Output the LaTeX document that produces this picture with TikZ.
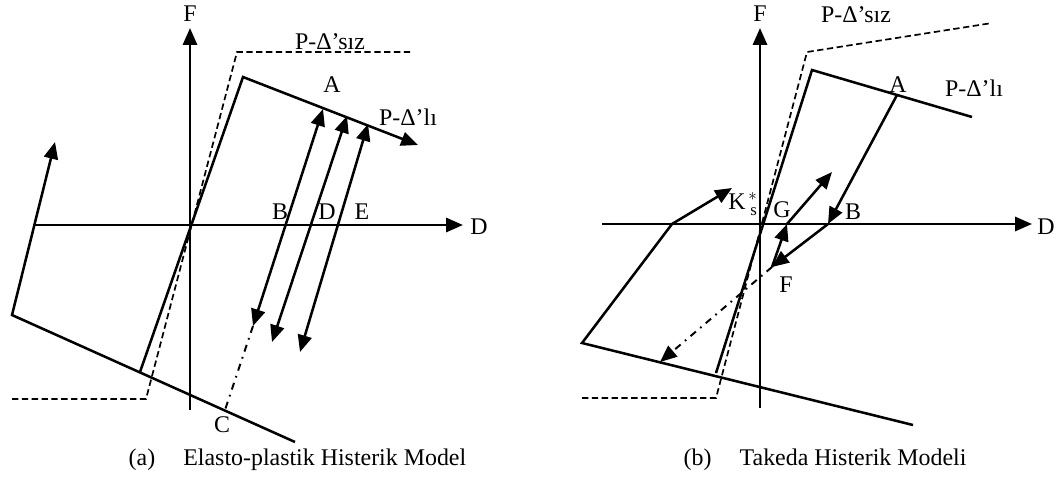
\documentclass[tikz,border=0pt]{standalone}
\usepackage{fontspec}
\setmainfont{Liberation Serif}
\usetikzlibrary{arrows.meta}
\tikzset{
  curve/.style={line width=1.8pt, line join=miter},
  axisline/.style={line width=1.9pt, -{Triangle[length=12pt,width=10pt]}},
  tip/.style={-{Triangle[length=12pt,width=10pt]}},
  twotip/.style={{Triangle[length=12pt,width=10pt]}-{Triangle[length=12pt,width=10pt]}},
  pdnone/.style={line width=1.2pt, dash pattern=on 4.5pt off 2.5pt},
  unload/.style={line width=1.4pt, dash pattern=on 5pt off 4pt on 1.2pt off 4pt},
  lbl/.style={font=\fontsize{17}{20}\selectfont, inner sep=1pt},
}

\begin{document}
\begin{tikzpicture}[x=0.025cm, y=-0.025cm]
\useasboundingbox (0,0) rectangle (1056,482);

% ---- (a) Elasto-plastik ----
% axes
\coordinate (fa0) at (190,410); \coordinate (fa1) at (190,28);
\coordinate (da0) at (33,225);  \coordinate (da1) at (463,225);
\draw[axisline] (fa0) -- (fa1);
\draw[axisline] (da0) -- (da1);
\node[lbl] (Fa) at (190,14) {F};
\node[lbl] (Da) at (479,227) {D};

% P-Delta'siz envelope (dashed)
\coordinate (sa0) at (12,399); \coordinate (sa1) at (146,399);
\coordinate (sa2) at (237,52); \coordinate (sa3) at (413,52);
\draw[pdnone] (sa0) -- (sa1) -- (sa2) -- (sa3);

% P-Delta'li envelope
\coordinate (ea0) at (140,372); \coordinate (ea1) at (243,77); \coordinate (ea2) at (418,145);
\draw[curve,tip] (ea0) -- (ea1) -- (ea2);
\coordinate (la0) at (295,442); \coordinate (la1) at (12,315); \coordinate (la2) at (55,142);
\draw[curve,tip] (la0) -- (la1) -- (la2);

% unloading / reloading branches
\coordinate (ua1) at (323,109); \coordinate (va1) at (253,326);
\coordinate (ua2) at (347,116); \coordinate (va2) at (272,342);
\coordinate (ua3) at (368,124); \coordinate (va3) at (300,352);
\draw[curve,twotip] (ua1) -- (va1);
\draw[curve,twotip] (ua2) -- (va2);
\draw[curve,twotip] (ua3) -- (va3);
\coordinate (ca) at (225,410);
\draw[unload] (va1) -- (ca);

% labels
\node[lbl] (Psa) at (330,42) {P-Δ’sız};
\node[lbl] (Aa) at (332,85) {A};
\node[lbl] (Pla) at (408,117) {P-Δ’lı};
\node[lbl] (Ba) at (280,212) {B};
\node[lbl] (Dpa) at (327,212) {D};
\node[lbl] (Ea) at (362,212) {E};
\node[lbl] (Ca) at (222,425) {C};
\node[lbl, anchor=west] (capa) at (127,460) {(a)\hspace*{20pt}Elasto-plastik Histerik Model};

% ---- (b) Takeda ----
% axes
\coordinate (fb0) at (760,408); \coordinate (fb1) at (760,28);
\coordinate (db0) at (602,224); \coordinate (db1) at (1032,224);
\draw[axisline] (fb0) -- (fb1);
\draw[axisline] (db0) -- (db1);
\node[lbl] (Fb) at (760,14) {F};
\node[lbl] (Db) at (1046,227) {D};

% P-Delta'siz envelope (dashed)
\coordinate (sb0) at (582,398); \coordinate (sb1) at (716,398);
\coordinate (sb2) at (807,52);  \coordinate (sb3) at (992,23);
\draw[pdnone] (sb0) -- (sb1) -- (sb2) -- (sb3);

% P-Delta'li envelope
\coordinate (eb0) at (716,373); \coordinate (eb1) at (812,70); \coordinate (eb2) at (972,117);
\draw[curve] (eb0) -- (eb1) -- (eb2);
\coordinate (lb0) at (913,425); \coordinate (lb1) at (582,343);
\coordinate (lb2) at (672,224); \coordinate (lb3) at (732,188);
\draw[curve,tip] (lb0) -- (lb1) -- (lb2) -- (lb3);

% Takeda cycle
\coordinate (pA) at (897,95);
\coordinate (pB) at (828,224);
\coordinate (pF) at (772,267);
\coordinate (pG) at (787,224);
\coordinate (pH) at (832,172);
\coordinate (pL) at (660,362);
\draw[curve,tip] (pA) -- (pB);
\draw[curve,tip] (pB) -- (pF);
\draw[curve,tip] (pF) -- (pG);
\draw[curve,tip] (pG) -- (pH);
\draw[unload,tip] (pF) -- (pL);

% labels
\node[lbl] (Psb) at (856,15) {P-Δ’sız};
\node[lbl] (Ab) at (898,85) {A};
\node[lbl] (Plb) at (974,88) {P-Δ’lı};
\node[lbl] (Kb) at (743,204) {K$^{\,*}_{\;\mathrm{s}}$};
\node[lbl] (Gb) at (782,210) {G};
\node[lbl] (Bb) at (853,212) {B};
\node[lbl] (Fpb) at (786,285) {F};
\node[lbl, anchor=west] (capb) at (682,460) {(b)\hspace*{20pt}Takeda Histerik Modeli};
\end{tikzpicture}
\end{document}
